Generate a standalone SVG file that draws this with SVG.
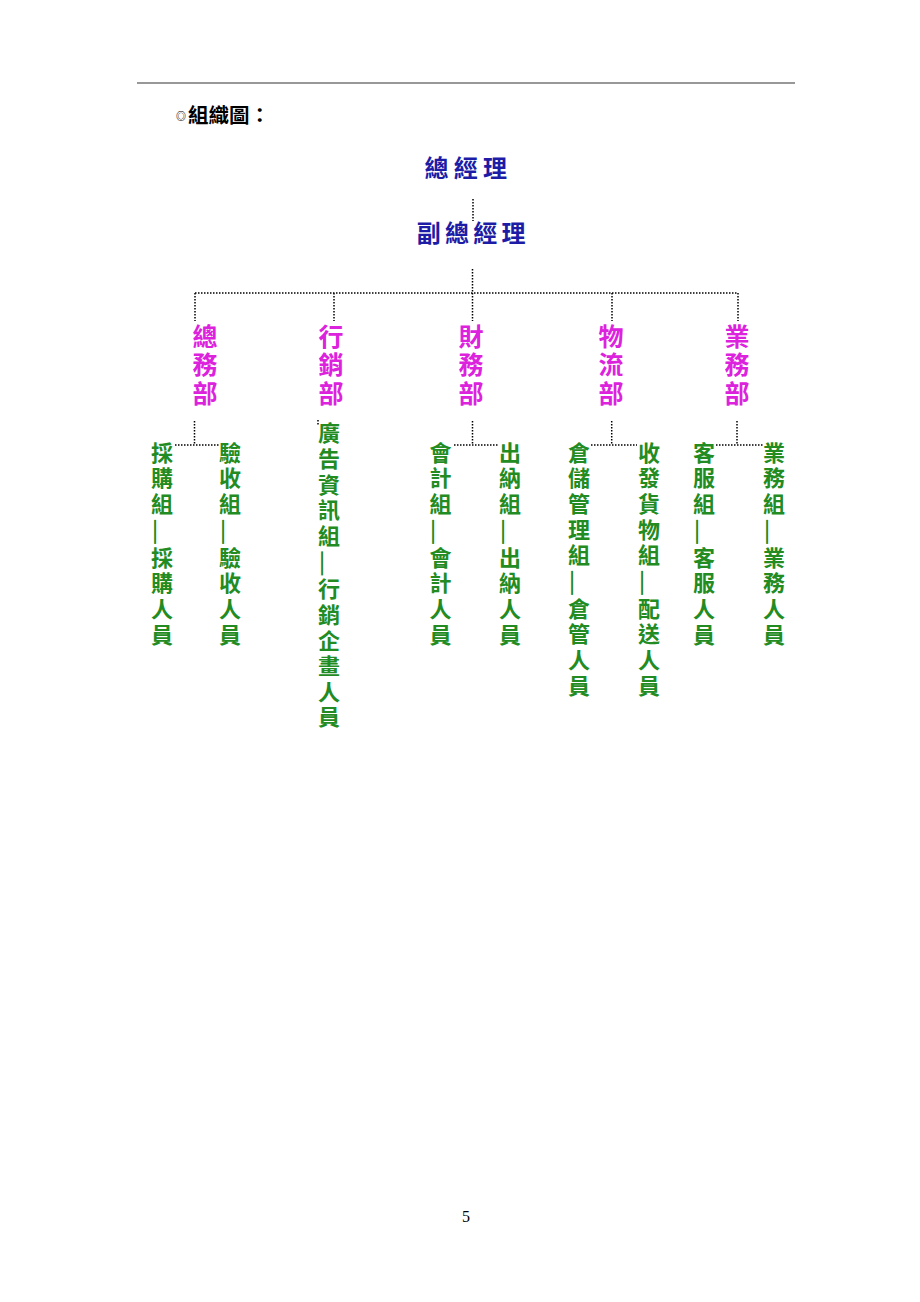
<svg xmlns="http://www.w3.org/2000/svg" width="920" height="1302" viewBox="0 0 920 1302">
<style>
.cjk{font-family:"Noto Sans CJK TC","Noto Sans CJK SC",sans-serif;font-weight:700}
.top{font-size:24px;fill:#1c1ca6;text-anchor:middle}
.dept{font-size:25px;fill:#dd22dd;writing-mode:vertical-rl;letter-spacing:3.5px}
.sub{font-size:22px;fill:#228b22;writing-mode:vertical-rl;letter-spacing:3.6px}
.dash{font-size:30px;font-weight:400;letter-spacing:1px}
.dot{fill:none;stroke:#000;stroke-width:1.5;stroke-dasharray:1.5 1.5}
</style>
<rect width="920" height="1302" fill="#fff"/>
<line x1="137" y1="83" x2="795" y2="83" stroke="#333" stroke-width="1.2"/>
<g id="title">
<text class="cjk" fill="#000"><tspan x="176" y="120" font-size="10px">◎</tspan><tspan x="188" y="123" font-size="20.5px">組織圖：</tspan></text>
</g>
<g id="connectors">
<path class="dot" d="M473 199V221"/>
<path class="dot" d="M472.5 269V293M195 293H738M195 293V321M334 293V321M472.5 293V321M612 293V321M738 293V321"/>
<path class="dot" d="M194.5 421V445M175 445H219"/>
<path class="dot" d="M318 420V425"/>
<path class="dot" d="M472.5 421V445M454 445H498"/>
<path class="dot" d="M611.7 421V445M591 445H637"/>
<path class="dot" d="M737 421V445M716 445H763"/>
</g>
<g id="gm"><text class="cjk top" x="436.5 465.8 495.1" y="176.5">總經理</text></g>
<g id="dgm"><text class="cjk top" x="428.8 457 485.2 513.4" y="241.5">副總經理</text></g>
<g id="dept-general"><text class="cjk dept" x="205" y="323.5">總務部</text></g>
<g id="dept-marketing"><text class="cjk dept" x="331" y="323.5">行銷部</text></g>
<g id="dept-finance"><text class="cjk dept" x="471" y="323.5">財務部</text></g>
<g id="dept-logistics"><text class="cjk dept" x="611" y="323.5">物流部</text></g>
<g id="dept-sales"><text class="cjk dept" x="737" y="323.5">業務部</text></g>
<g id="sub-purchase"><text class="cjk sub" x="162" y="441.5">採購組<tspan class="dash" dx="-2.5">—</tspan><tspan dx="2.5">採購人員</tspan></text></g>
<g id="sub-inspect"><text class="cjk sub" x="230" y="441.5">驗收組<tspan class="dash" dx="-2.5">—</tspan><tspan dx="2.5">驗收人員</tspan></text></g>
<g id="sub-ad"><text class="cjk sub" x="329" y="422">廣告資訊組<tspan class="dash" dx="-2.5">—</tspan><tspan dx="2.5">行銷企畫人員</tspan></text></g>
<g id="sub-account"><text class="cjk sub" x="440.5" y="441.5">會計組<tspan class="dash" dx="-2.5">—</tspan><tspan dx="2.5">會計人員</tspan></text></g>
<g id="sub-cashier"><text class="cjk sub" x="510" y="441.5">出納組<tspan class="dash" dx="-2.5">—</tspan><tspan dx="2.5">出納人員</tspan></text></g>
<g id="sub-warehouse"><text class="cjk sub" x="579" y="441.5">倉儲管理組<tspan class="dash" dx="-2.5">—</tspan><tspan dx="2.5">倉管人員</tspan></text></g>
<g id="sub-shipping"><text class="cjk sub" x="649" y="441.5">收發貨物組<tspan class="dash" dx="-2.5">—</tspan><tspan dx="2.5">配送人員</tspan></text></g>
<g id="sub-service"><text class="cjk sub" x="704" y="441.5">客服組<tspan class="dash" dx="-2.5">—</tspan><tspan dx="2.5">客服人員</tspan></text></g>
<g id="sub-business"><text class="cjk sub" x="774" y="441.5">業務組<tspan class="dash" dx="-2.5">—</tspan><tspan dx="2.5">業務人員</tspan></text></g>
<text x="466" y="1222" font-family="Liberation Serif, serif" font-size="16px" text-anchor="middle" fill="#000">5</text>
</svg>
